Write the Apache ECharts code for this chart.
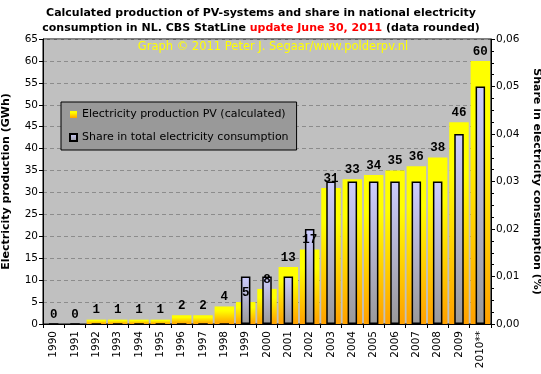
<!DOCTYPE html>
<html><head><meta charset="utf-8">
<script src="https://cdn.jsdelivr.net/npm/echarts@6/dist/echarts.min.js"></script>
<style>html,body{margin:0;padding:0;background:#fff}#c{width:541px;height:374px}</style>
</head><body><div id="c"></div>
<script>
const years = ['1990','1991','1992','1993','1994','1995','1996','1997','1998','1999','2000','2001','2002','2003','2004','2005','2006','2007','2008','2009','2010**'];
const production = [0,0,1,1,1,1,2,2,4,5,8,13,17,31,33,34,35,36,38,46,60];
const share = [0,0,0,0,0,0,0,0,0,0.01,0.01,0.01,0.02,0.03,0.03,0.03,0.03,0.03,0.03,0.04,0.05];
const leftAxis = {min: 0, max: 65, interval: 5};
const rightAxis = {min: 0, max: 0.06, interval: 0.01};

const F = 'DejaVu Sans';
const chart = echarts.init(document.getElementById('c'), null, {renderer: 'canvas'});
const yellowGrad = new echarts.graphic.LinearGradient(0, 0, 0, 1, [
  {offset: 0, color: '#ffff00'}, {offset: 0.25, color: '#ffff00'}, {offset: 1, color: '#ffa000'}]);
const lavGrad = new echarts.graphic.LinearGradient(0, 0, 0, 1, [
  {offset: 0, color: '#ccccff'}, {offset: 1, color: '#999999'}]);

chart.setOption({
  animation: false,
  backgroundColor: '#ffffff',
  title: {
    left: 256, textAlign: 'center', top: 1,
    text: '{a|Calculated production of PV-systems and share in national electricity}\n{a|consumption in NL. CBS StatLine }{r|update June 30, 2011}{a| (data rounded)}',
    textStyle: {
      rich: {
        a: {fontFamily: F, fontWeight: 'bold', fontSize: 11, color: '#000', lineHeight: 15},
        r: {fontFamily: F, fontWeight: 'bold', fontSize: 11, color: '#ff0000', lineHeight: 15}
      }
    }
  },
  graphic: [{
    type: 'text', x: 273, y: 41, z: 5,
    style: {text: 'Graph \u00a9 2011 Peter J. Segaar/www.polderpv.nl', fill: '#ffff00', font: '11.5px "DejaVu Sans"', textAlign: 'center'}
  }],
  legend: {
    left: 61, top: 102, orient: 'vertical',
    backgroundColor: '#999999', borderColor: '#000', borderWidth: 1,
    padding: [7, 8, 7, 8], itemGap: 12, itemWidth: 7, itemHeight: 7,
    icon: 'rect',
    textStyle: {fontFamily: F, fontSize: 11, color: '#000'},
    data: ['Electricity production PV (calculated)', 'Share in total electricity consumption']
  },
  grid: {left: 43, right: 50, top: 39, bottom: 50, outerBoundsMode: 'none', containLabel: false,
    show: true, backgroundColor: '#c0c0c0', borderColor: '#000', borderWidth: 1},
  xAxis: [{
    type: 'category', data: years,
    axisLine: {lineStyle: {color: '#000', width: 1}},
    axisTick: {show: true, length: 4, lineStyle: {color: '#000'}},
    axisLabel: {rotate: 90, fontFamily: F, fontSize: 10.5, color: '#000', margin: 7, interval: 0}
  }, {
    type: 'category', data: years, show: false
  }],
  yAxis: [{
    type: 'value', min: leftAxis.min, max: leftAxis.max, interval: leftAxis.interval,
    name: 'Electricity production (GWh)', nameLocation: 'middle', nameRotate: 90, nameGap: 31,
    nameTextStyle: {fontFamily: F, fontWeight: 'bold', fontSize: 11, color: '#000'},
    axisLine: {show: true, lineStyle: {color: '#000'}},
    axisTick: {show: true, length: 4, lineStyle: {color: '#000'}},
    axisLabel: {fontFamily: F, fontSize: 10.5, color: '#000', margin: 5},
    splitLine: {show: true, lineStyle: {color: '#8c8c8c', type: [4, 3], width: 1}}
  }, {
    type: 'value', position: 'right', min: rightAxis.min, max: rightAxis.max, interval: rightAxis.interval,
    name: 'Share in electricity consumption (%)', nameLocation: 'middle', nameRotate: -90, nameGap: 40,
    nameTextStyle: {fontFamily: F, fontWeight: 'bold', fontSize: 11, color: '#000'},
    axisLine: {show: true, lineStyle: {color: '#000'}},
    axisTick: {show: true, length: 4, lineStyle: {color: '#000'}},
    minorTick: {show: true, splitNumber: 4, length: 3, lineStyle: {color: '#000'}},
    axisLabel: {fontFamily: F, fontSize: 10.5, color: '#000', margin: 5,
      formatter: v => v.toFixed(2).replace('.', ',')},
    splitLine: {show: false}
  }],
  series: [{
    name: 'Electricity production PV (calculated)', type: 'bar',
    xAxisIndex: 0, yAxisIndex: 0, data: production, barWidth: 19.5,
    itemStyle: {color: yellowGrad},
    z: 2
  }, {
    name: 'Share in total electricity consumption', type: 'bar',
    xAxisIndex: 1, yAxisIndex: 1, data: share, barWidth: 9.5,
    itemStyle: {color: lavGrad, borderColor: '#000', borderWidth: 1.5},
    z: 3
  }, {
    name: 'labels', type: 'bar', barGap: '-100%',
    xAxisIndex: 0, yAxisIndex: 0, data: production, barWidth: 19.5,
    itemStyle: {color: 'rgba(0,0,0,0)'}, silent: true,
    label: {show: true, position: 'top', distance: 3, fontFamily: 'Liberation Mono', fontWeight: 'bold', fontSize: 12.5, color: '#000'},
    z: 4
  }]
});
</script></body></html>
